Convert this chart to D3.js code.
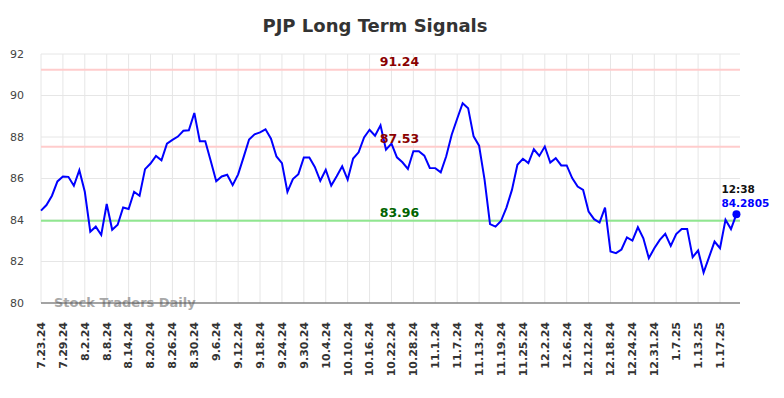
<!DOCTYPE html>
<html>
<head>
<meta charset="utf-8">
<script src="https://cdn.jsdelivr.net/npm/d3@7"></script>
<style>
  body { margin: 0; background: #fff; }
  text { font-family: "DejaVu Sans", sans-serif; }
</style>
</head>
<body>
<div id="chart"></div>
<script>
// Tick labels (one every 4 sessions) and closing values
var tickLabels = ["7.23.24", "7.29.24", "8.2.24", "8.8.24", "8.14.24", "8.20.24", "8.26.24", "8.30.24",
    "9.6.24", "9.12.24", "9.18.24", "9.24.24", "9.30.24", "10.4.24", "10.10.24", "10.16.24",
    "10.22.24", "10.28.24", "11.1.24", "11.7.24", "11.13.24", "11.19.24", "11.25.24", "12.2.24",
    "12.6.24", "12.12.24", "12.18.24", "12.24.24", "12.31.24", "1.7.25", "1.13.25", "1.17.25"];

var prices = [
    84.45, 84.72, 85.17, 85.86, 86.10, 86.08, 85.65, 86.40, 85.36, 83.44,
    83.68, 83.28, 84.77, 83.53, 83.77, 84.60, 84.53, 85.36, 85.17, 86.45,
    86.72, 87.09, 86.88, 87.68, 87.86, 88.02, 88.30, 88.32, 89.16, 87.80,
    87.80, 86.84, 85.87, 86.10, 86.18, 85.68, 86.20, 87.03, 87.88, 88.13,
    88.22, 88.37, 87.92, 87.06, 86.74, 85.36, 85.97, 86.21, 87.01, 87.01,
    86.56, 85.89, 86.42, 85.66, 86.11, 86.59, 85.95, 86.96, 87.26, 87.98,
    88.35, 88.06, 88.56, 87.39, 87.68, 87.02, 86.78, 86.46, 87.31, 87.31,
    87.10, 86.51, 86.50, 86.30, 87.07, 88.11, 88.88, 89.63, 89.39, 88.03,
    87.58, 85.95, 83.80, 83.68, 83.95, 84.60, 85.45, 86.66, 86.95, 86.74,
    87.41, 87.09, 87.54, 86.77, 86.98, 86.63, 86.63, 86.02, 85.61, 85.45,
    84.41, 84.04, 83.88, 84.60, 82.48, 82.40, 82.58, 83.16, 83.01, 83.65,
    83.12, 82.16, 82.64, 83.04, 83.33, 82.75, 83.32, 83.57, 83.57, 82.21,
    82.53, 81.47, 82.21, 82.96, 82.64, 84.01, 83.56, 84.2805];

var upperSignals = [91.24, 87.53];
var lowerSignals = [83.96];
var yTicks = [80, 82, 84, 86, 88, 90, 92];
var lastTime = "12:38";

var width = 784, height = 398,
    plot = { left: 41, right: 740, top: 54, bottom: 303 },
    tickEvery = 4;

var svg = d3.select("#chart").append("svg")
    .attr("width", width)
    .attr("height", height);

var x = d3.scaleLinear()
    .domain([0, prices.length - 1])
    .range([plot.left, plot.left + (prices.length - 1) * 5.476]);

var y = d3.scaleLinear()
    .domain([80, 92])
    .range([plot.bottom, plot.top]);

// grid
var grid = svg.append("g").attr("class", "grid");
grid.selectAll("line.h")
    .data(yTicks)
    .enter().append("line")
    .attr("x1", plot.left).attr("x2", plot.right)
    .attr("y1", function (d) { return y(d); })
    .attr("y2", function (d) { return y(d); })
    .style("stroke", "#e6e6e6");
grid.selectAll("line.v")
    .data(tickLabels)
    .enter().append("line")
    .attr("x1", function (d, i) { return x(i * tickEvery); })
    .attr("x2", function (d, i) { return x(i * tickEvery); })
    .attr("y1", plot.top).attr("y2", plot.bottom)
    .style("stroke", "#e6e6e6");

// y labels
svg.append("g").selectAll("text")
    .data(yTicks)
    .enter().append("text")
    .attr("x", 24)
    .attr("y", function (d) { return y(d); })
    .attr("dy", "0.35em")
    .attr("text-anchor", "end")
    .style("font-size", "11px")
    .style("fill", "#444")
    .text(function (d) { return d; });

// x labels
svg.append("g").selectAll("text")
    .data(tickLabels)
    .enter().append("text")
    .attr("transform", function (d, i) { return "translate(" + x(i * tickEvery) + ",322) rotate(-90)"; })
    .attr("dy", "0.35em")
    .attr("text-anchor", "end")
    .style("font-size", "11px")
    .style("font-weight", "bold")
    .style("fill", "#333")
    .text(function (d) { return d; });

// signal lines
var signals = upperSignals.map(function (v) { return { v: v, line: "#ffcccc", label: "#8b0000" }; })
    .concat(lowerSignals.map(function (v) { return { v: v, line: "#90e690", label: "#006400" }; }));

svg.append("g").selectAll("line")
    .data(signals)
    .enter().append("line")
    .attr("x1", plot.left).attr("x2", plot.right)
    .attr("y1", function (d) { return y(d.v); })
    .attr("y2", function (d) { return y(d.v); })
    .style("stroke", function (d) { return d.line; })
    .style("stroke-width", 2);

// watermark
svg.append("text")
    .attr("x", 54).attr("y", 307)
    .style("font-size", "13px")
    .style("font-weight", "bold")
    .style("fill", "#999")
    .style("opacity", 0.85)
    .text("Stock Traders Daily");

// bottom axis line
svg.append("line")
    .attr("x1", plot.left).attr("x2", plot.right)
    .attr("y1", plot.bottom).attr("y2", plot.bottom)
    .style("stroke", "#555")
    .style("stroke-width", 1.2);

// price line
var line = d3.line()
    .x(function (d, i) { return x(i); })
    .y(function (d) { return y(d); });

svg.append("path")
    .datum(prices)
    .attr("d", line)
    .style("fill", "none")
    .style("stroke", "#0000ff")
    .style("stroke-width", 2);

// signal labels
svg.append("g").selectAll("text")
    .data(signals)
    .enter().append("text")
    .attr("x", 399.5)
    .attr("y", function (d) { return y(d.v) - 4; })
    .attr("text-anchor", "middle")
    .style("font-size", "12.5px")
    .style("font-weight", "bold")
    .style("fill", function (d) { return d.label; })
    .text(function (d) { return d.v.toFixed(2); });

// last point
var li = prices.length - 1, lv = prices[li];
svg.append("circle")
    .attr("cx", x(li)).attr("cy", y(lv))
    .attr("r", 4)
    .style("fill", "#0000ff");
svg.append("text")
    .attr("x", x(li) - 15).attr("y", y(lv) - 21)
    .style("font-size", "10.5px")
    .style("font-weight", "bold")
    .style("fill", "#111")
    .text(lastTime);
svg.append("text")
    .attr("x", x(li) - 15).attr("y", y(lv) - 7)
    .style("font-size", "10.5px")
    .style("font-weight", "bold")
    .style("fill", "#0000ff")
    .text(lv);

// title
svg.append("text")
    .attr("x", 375).attr("y", 32)
    .attr("text-anchor", "middle")
    .style("font-size", "18px")
    .style("font-weight", "bold")
    .style("fill", "#333")
    .text("PJP Long Term Signals");
</script>
</body>
</html>
